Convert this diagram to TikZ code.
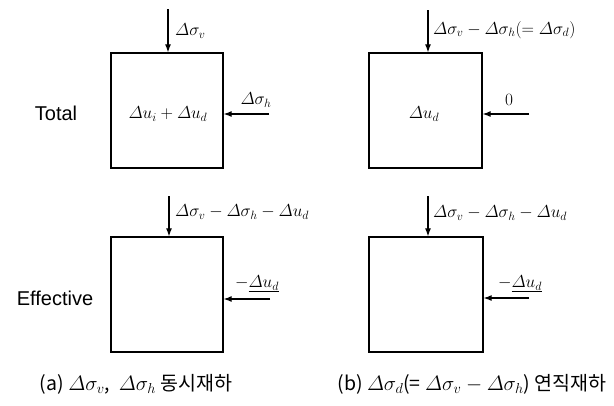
\documentclass[tikz,border=0pt]{standalone}
\usepackage[no-math]{fontspec}
\setmainfont{Liberation Sans}
\newfontfamily\kr{Noto Sans CJK KR}
\usetikzlibrary{arrows.meta}
\newcommand{\Dl}{\mathchar"0101}
\begin{document}
\begin{tikzpicture}[x=1pt,y=-1pt,
  box/.style={draw, line width=1.3pt, inner sep=0pt},
  load/.style={-{Latex[length=8pt,width=6pt]}, line width=1.2pt},
  lbl/.style={font=\fontsize{17}{20}\selectfont, inner sep=0pt},
  side/.style={font=\fontsize{20}{23}\selectfont, inner sep=0pt},
  captext/.style={font=\kr\fontsize{19.5}{22}\selectfont, inner sep=0pt}]
\useasboundingbox (0,0) rectangle (614,405);
% boxes
\node[box, minimum width=112pt, minimum height=115pt] (A) at (167,110.5) {};
\node[box, minimum width=113pt, minimum height=115pt] (B) at (425.5,110.5) {};
\node[box, minimum width=112pt, minimum height=115pt] (C) at (167,294.5) {};
\node[box, minimum width=114pt, minimum height=115pt] (D) at (426,294.5) {};
% side labels
\node[side] (tot) at (56,113) {Total};
\node[side] (eff) at (55,298) {Effective};
% box contents
\node[lbl] (Ain) at (168,114) {$\Dl u_i+\Dl u_d$};
\node[lbl] (Bin) at (424,114) {$\Dl u_d$};
% loads box A
\coordinate (a1) at (168,9);
\coordinate (a2) at (269,114);
\draw[load] (a1) -- (a1 |- A.north);
\draw[load] (a2) -- (a2 -| A.east);
\node[lbl, anchor=west] (av) at (175,31) {$\Dl\sigma_v$};
\node[lbl] (ah) at (256,100) {$\Dl\sigma_h$};
% loads box B
\coordinate (b1) at (428,10);
\coordinate (b2) at (529,114);
\draw[load] (b1) -- (b1 |- B.north);
\draw[load] (b2) -- (b2 -| B.east);
\node[lbl, anchor=west] (bv) at (433,30) {$\Dl\sigma_v-\Dl\sigma_h(=\Dl\sigma_d)$};
\node[lbl] (bh) at (509,100) {$0$};
% loads box C
\coordinate (c1) at (169,196);
\coordinate (c2) at (270,299);
\draw[load] (c1) -- (c1 |- C.north);
\draw[load] (c2) -- (c2 -| C.east);
\node[lbl, anchor=west] (cv) at (175,212) {$\Dl\sigma_v-\Dl\sigma_h-\Dl u_d$};
\node[lbl] (ch) at (257,284) {$-\underline{\Dl u_d}$};
% loads box D
\coordinate (d1) at (428,196);
\coordinate (d2) at (529,298);
\draw[load] (d1) -- (d1 |- D.north);
\draw[load] (d2) -- (d2 -| D.east);
\node[lbl, anchor=west] (dv) at (433,213) {$\Dl\sigma_v-\Dl\sigma_h-\Dl u_d$};
\node[lbl] (dh) at (520,284) {$-\underline{\Dl u_d}$};
% captions
\node[captext] (capa) at (136,384) {(a) $\Dl\sigma_v$,\ \ $\Dl\sigma_h$ 동시재하};
\node[captext] (capb) at (472,384) {(b) $\Dl\sigma_d$(= $\Dl\sigma_v-\Dl\sigma_h$) 연직재하};
\end{tikzpicture}
\end{document}
